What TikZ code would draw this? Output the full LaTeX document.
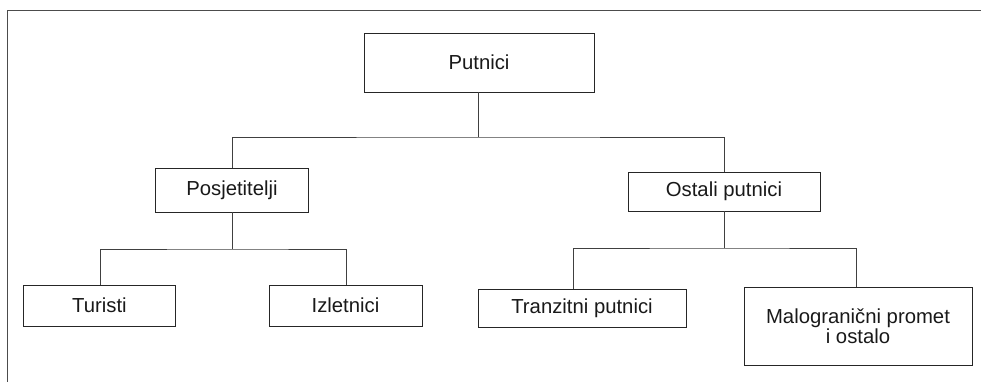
\documentclass[tikz,border=0pt]{standalone}
\usepackage{fontspec}
\setmainfont{Liberation Sans}
\begin{document}
\begin{tikzpicture}[x=1pt,y=-1pt,line join=miter]
  \tikzstyle{box}=[draw=black!85,line width=0.9pt,inner sep=0pt,align=center,
                   font=\fontsize{20.3}{19.5}\selectfont,text=black!90]
  \tikzstyle{link}=[draw=black!75,line width=0.9pt]
  \useasboundingbox (0,0) rectangle (981,381);
  % frame
  \draw[black!70,line width=1.2pt] (7.5,390) |- (990,10.5);
  % boxes
  \node[box,minimum width=230pt,minimum height=59pt] (putnici) at (479,62.5) {Putnici};
  \node[box,minimum width=153pt,minimum height=44pt] (posj)    at (232,190)  {Posjetitelji};
  \node[box,minimum width=192pt,minimum height=39pt] (ostali)  at (724,191.5) {Ostali putnici};
  \node[box,minimum width=152pt,minimum height=41pt] (turisti) at (99.5,305.5) {Turisti};
  \node[box,minimum width=153pt,minimum height=41pt] (izlet)   at (345.5,305.5) {Izletnici};
  \node[box,minimum width=208pt,minimum height=38pt] (tranz)   at (582,308)  {Tranzitni putnici};
  \node[box,minimum width=228pt,minimum height=78pt] (malo)    at (858,326)  {Malogranični promet\\i ostalo};
  % junctions
  \coordinate (j1) at (478,137);
  \coordinate (j2) at (232,249);
  \coordinate (j3) at (724,248);
  \coordinate (s1) at (100,0);
  \coordinate (s2) at (346,0);
  \coordinate (s3) at (573,0);
  \coordinate (s4) at (856,0);
  % connectors
  \draw[link] (putnici.south -| j1) -- (j1);
  \draw[link] (posj.north) |- (j1) -| (ostali.north);
  \draw[link] (posj.south) -- (j2);
  \draw[link] (turisti.north -| s1) |- (j2) -| (izlet.north -| s2);
  \draw[link] (ostali.south) -- (j3);
  \draw[link] (tranz.north -| s3) |- (j3) -| (malo.north -| s4);
\end{tikzpicture}
\end{document}
